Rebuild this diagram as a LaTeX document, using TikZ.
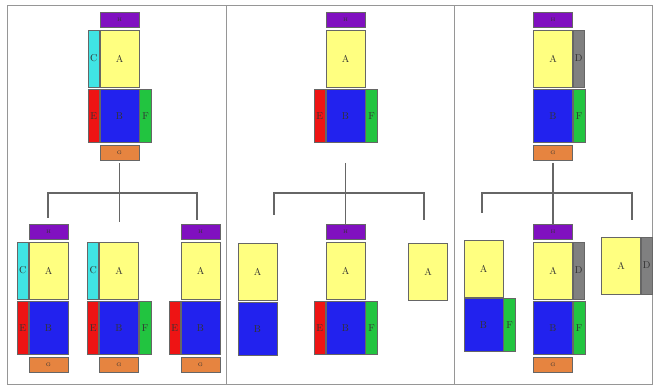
\documentclass[tikz,border=0pt]{standalone}
\usepackage{tikz}
\usetikzlibrary{positioning}
\definecolor{ayel}{RGB}{255,255,128}
\definecolor{bblu}{RGB}{34,34,238}
\definecolor{cred}{RGB}{238,20,20}
\definecolor{fgrn}{RGB}{34,196,64}
\definecolor{ccyn}{RGB}{64,228,228}
\definecolor{hpur}{RGB}{128,16,192}
\definecolor{gorg}{RGB}{230,132,64}
\definecolor{dgry}{RGB}{128,128,128}
\definecolor{frame}{RGB}{150,150,150}
\begin{document}
\begin{tikzpicture}[x=1pt, y=-1pt,
            every node/.style = {shape=rectangle, draw=black!60, line width=0.7pt,
                                inner sep=0pt, text=black!80, font=\fontsize{10}{12}\selectfont},
            ablk/.style = {fill=ayel, minimum width=39pt, minimum height=57pt},
            bblk/.style = {fill=bblu, minimum width=39pt, minimum height=53pt},
            hblk/.style = {fill=hpur, minimum width=39pt, minimum height=15pt, font=\tiny},
            gblk/.style = {fill=gorg, minimum width=39pt, minimum height=15pt, font=\tiny},
            cblk/.style = {fill=ccyn, minimum width=11pt, minimum height=57pt},
            dblk/.style = {fill=dgry, minimum width=11pt, minimum height=57pt},
            eblk/.style = {fill=cred, minimum width=11pt, minimum height=53pt},
            fblk/.style = {fill=fgrn, minimum width=12pt, minimum height=53pt},
            branch/.style = {draw=black!60, line width=1.2pt}]
    \useasboundingbox (0,0) rectangle (655,387);
    % panels
    \draw[frame, line width=1pt] (7,6) rectangle (652,384);
    \draw[frame, line width=1pt] (226,6) -- (226,384) (454,6) -- (454,384);

    % first panel
    \node[ablk] (a1) at (119.5,58.5) {A};
    \node[hblk, above=2pt of a1] (h1) {H};
    \node[cblk, left=0pt of a1] (c1) {C};
    \node[bblk, below=1.5pt of a1] (b1) {B};
    \node[eblk, left=0pt of b1] (e1) {E};
    \node[fblk, right=0pt of b1] (f1) {F};
    \node[gblk, below=2pt of b1] (g1) {G};

    \node[ablk] (a1l) at (48.5,270.5) {A};
    \node[hblk, above=2pt of a1l] (h1l) {H};
    \node[cblk, left=0pt of a1l] (c1l) {C};
    \node[bblk, below=1.5pt of a1l] (b1l) {B};
    \node[eblk, left=0pt of b1l] (e1l) {E};
    \node[gblk, below=2pt of b1l] (g1l) {G};

    \node[ablk] (a1m) at (119,270.5) {A};
    \node[cblk, left=0pt of a1m] (c1m) {C};
    \node[bblk, below=1.5pt of a1m] (b1m) {B};
    \node[eblk, left=0pt of b1m] (e1m) {E};
    \node[fblk, right=0pt of b1m] (f1m) {F};
    \node[gblk, below=2pt of b1m] (g1m) {G};

    \node[ablk] (a1r) at (200.5,270.5) {A};
    \node[hblk, above=2pt of a1r] (h1r) {H};
    \node[bblk, below=1.5pt of a1r] (b1r) {B};
    \node[eblk, left=0pt of b1r] (e1r) {E};
    \node[gblk, below=2pt of b1r] (g1r) {G};

    \coordinate (t1) at (119.5,163);
    \coordinate (j1) at (119.5,193);
    \coordinate (l1) at (48,218);
    \coordinate (m1) at (119.5,222);
    \coordinate (r1) at (197,220);
    \draw[branch] (t1) -- (m1) (l1) |- (j1) -| (r1);

    % second panel
    \node[ablk] (a2) at (345.5,58.5) {A};
    \node[hblk, above=2pt of a2] (h2) {H};
    \node[bblk, below=1.5pt of a2] (b2) {B};
    \node[eblk, left=0pt of b2] (e2) {E};
    \node[fblk, right=0pt of b2] (f2) {F};

    \node[ablk] (a2l) at (257.5,271.5) {A};
    \node[bblk, below=1.5pt of a2l] (b2l) {B};

    \node[ablk] (a2m) at (345.5,270.5) {A};
    \node[hblk, above=2pt of a2m] (h2m) {H};
    \node[bblk, below=1.5pt of a2m] (b2m) {B};
    \node[eblk, left=0pt of b2m] (e2m) {E};
    \node[fblk, right=0pt of b2m] (f2m) {F};

    \node[ablk] (a2r) at (428,271.5) {A};

    \coordinate (t2) at (345.5,163);
    \coordinate (j2) at (345.5,193);
    \coordinate (l2) at (274,215);
    \coordinate (r2) at (424,220);
    \draw[branch] (t2) -- (h2m.north) (l2) |- (j2) -| (r2);

    % third panel
    \node[ablk] (a3) at (553,58.5) {A};
    \node[hblk, above=2pt of a3] (h3) {H};
    \node[dblk, right=0pt of a3] (d3) {D};
    \node[bblk, below=1.5pt of a3] (b3) {B};
    \node[fblk, right=0pt of b3] (f3) {F};
    \node[gblk, below=2pt of b3] (g3) {G};

    \node[ablk] (a3l) at (483.5,268.5) {A};
    \node[bblk, below=0.5pt of a3l] (b3l) {B};
    \node[fblk, right=0pt of b3l] (f3l) {F};

    \node[ablk] (a3m) at (553,270.5) {A};
    \node[hblk, above=2pt of a3m] (h3m) {H};
    \node[dblk, right=0pt of a3m] (d3m) {D};
    \node[bblk, below=1.5pt of a3m] (b3m) {B};
    \node[fblk, right=0pt of b3m] (f3m) {F};
    \node[gblk, below=2pt of b3m] (g3m) {G};

    \node[ablk] (a3r) at (621,265.5) {A};
    \node[dblk, right=0pt of a3r] (d3r) {D};

    \coordinate (t3) at (553,163);
    \coordinate (j3) at (553,193);
    \coordinate (l3) at (482,213);
    \coordinate (r3) at (632,220);
    \draw[branch] (t3) -- (h3m.north) (l3) |- (j3) -| (r3);
\end{tikzpicture}
\end{document}
